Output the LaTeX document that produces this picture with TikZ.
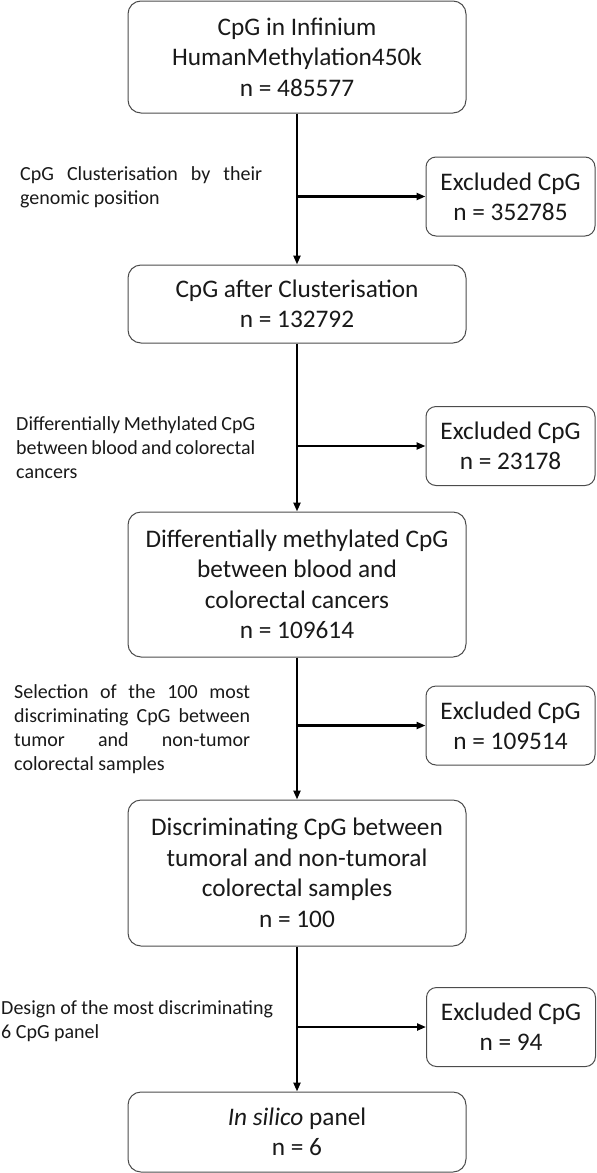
\documentclass[tikz,border=0pt]{standalone}
\usepackage{fontspec}
\setmainfont{Carlito}
\usepackage{tikz}
\usetikzlibrary{arrows.meta,positioning}
\tolerance=9999
\hyphenpenalty=10000

\begin{document}
\begin{tikzpicture}[x=1pt, y=-1pt,
    box/.style={draw=black!70, line width=1pt, rectangle, rounded corners=13pt,
                minimum width=338pt, align=center, inner sep=0pt, text=black!90,
                font=\fontsize{25.3}{30.5}\selectfont},
    excl/.style={draw=black!70, line width=1pt, rectangle, rounded corners=10pt,
                 minimum width=169pt, minimum height=79pt, align=center, inner sep=0pt,
                 text=black!90, font=\fontsize{25.3}{30}\selectfont},
    note/.style={anchor=west, inner sep=0pt, align=justify, text=black!90,
                 font=\fontsize{20}{24}\selectfont},
    arrow/.style={-{Triangle[length=9pt,width=7pt]}, line width=2.2pt}
]
\useasboundingbox (0,0) rectangle (597,1173);

\node[box, minimum height=112pt] (infinium) at (297,57) {CpG in Infinium\\HumanMethylation450k\\n = 485577};
\node[box, minimum height=78pt] (clust) at (297,304) {CpG after Clusterisation\\n = 132792};
\node[box, minimum height=145pt] (diffmeth) at (297,584.5) {Differentially methylated CpG\\between blood and\\colorectal cancers\\n = 109614};
\node[box, minimum height=146pt] (discrim) at (297,873) {Discriminating CpG between\\tumoral and non-tumoral\\colorectal samples\\n = 100};
\node[box, minimum height=80pt] (panel) at (297,1132) {\textit{In silico} panel\\n = 6};

\node[excl] (excl1) at (510.5,196.5) {Excluded CpG\\n = 352785};
\node[excl] (excl2) at (510.5,446) {Excluded CpG\\n = 23178};
\node[excl] (excl3) at (510.5,725.5) {Excluded CpG\\n = 109514};
\node[excl] (excl4) at (511,1027) {Excluded CpG\\n = 94};

\node[note, text width=242pt] (step1) at (20,187) {CpG Clusterisation by their\linebreak genomic position};
\node[note, text width=239pt] (step2) at (16,448) {Differentially Methylated CpG\linebreak between blood and colorectal\linebreak cancers};
\node[note, text width=236pt] (step3) at (14,729) {Selection of the 100 most\linebreak discriminating CpG between\linebreak tumor and non-tumor\linebreak colorectal samples};
\node[note, align=left] (step4) at (1,1021) {Design of the most discriminating\\6 CpG panel};

\foreach \a/\b in {infinium/clust, clust/diffmeth, diffmeth/discrim, discrim/panel}
  \draw[arrow] (\a) -- (\b);
\foreach \a/\e in {infinium/excl1, clust/excl2, diffmeth/excl3, discrim/excl4}
  \draw[arrow] (\a.south |- \e.west) -- (\e.west);
\end{tikzpicture}
\end{document}
